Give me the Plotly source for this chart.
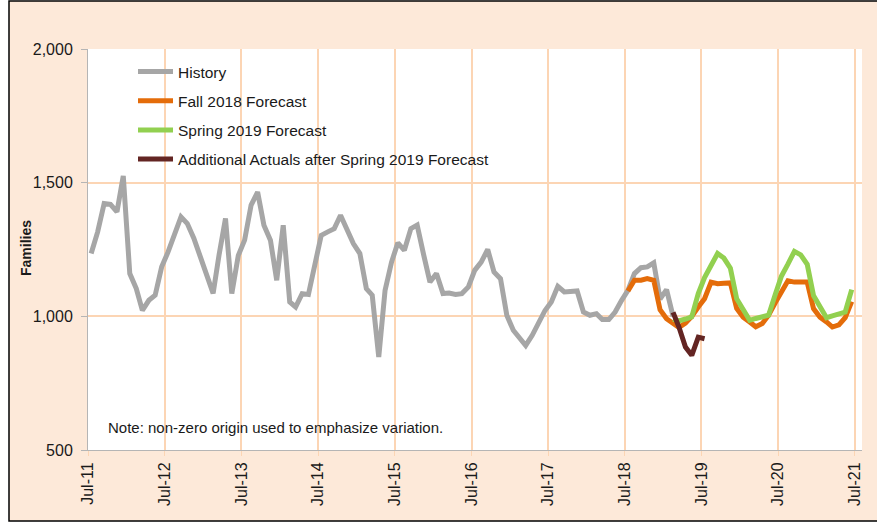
import plotly.graph_objects as go
import pandas as pd

# ---- data (monthly) ----
history_start = "2011-07-01"
history = [1235, 1316, 1422, 1419, 1391, 1525, 1160, 1104, 1022, 1060, 1079, 1185,
           1240, 1300, 1372, 1347, 1292, 1225, 1157, 1086, 1228, 1366, 1085, 1228,
           1285, 1416, 1465, 1341, 1285, 1135, 1341, 1054, 1035, 1085, 1082, 1200,
           1303, 1316, 1328, 1378, 1322, 1272, 1235, 1104, 1079, 848, 1097, 1203,
           1275, 1247, 1328, 1341, 1230, 1128, 1160, 1085, 1087, 1082, 1085, 1110,
           1172, 1203, 1250, 1166, 1141, 1004, 948, 920, 891, 929, 973, 1022,
           1054, 1112, 1091, 1093, 1095, 1016, 1004, 1010, 988, 988, 1016, 1060,
           1097, 1160, 1182, 1185, 1200, 1065, 1100, 1000]

fall_start = "2018-07-01"
fall2018 = [1095, 1135, 1135, 1141, 1135, 1025, 991, 976, 958, 975, 1000, 1035,
            1066, 1128, 1122, 1124, 1125, 1030, 997, 979, 961, 973, 1004, 1050,
            1090, 1133, 1128, 1128, 1128, 1029, 997, 979, 960, 968, 995, 1055]

spring_start = "2019-02-01"
spring2019 = [990, 983, 990, 998, 1085, 1145, 1190, 1235, 1218, 1180, 1066,
              1025, 985, 992, 998, 1004, 1080, 1150, 1195, 1243, 1230, 1195, 1078,
              1032, 995, 1002, 1010, 1016, 1100]

actual_start = "2019-02-01"
additional = [1015, 960, 885, 854, 922, 916]

tick_dates = ["2011-07-01", "2012-07-01", "2013-07-01", "2014-07-01", "2015-07-01",
              "2016-07-01", "2017-07-01", "2018-07-01", "2019-07-01", "2020-07-01",
              "2021-07-01"]
tick_labels = ["Jul-11", "Jul-12", "Jul-13", "Jul-14", "Jul-15", "Jul-16",
               "Jul-17", "Jul-18", "Jul-19", "Jul-20", "Jul-21"]


def months(start, n):
    # points sit in the middle of each month (Excel "between tick marks")
    return pd.date_range(start, periods=n, freq="MS") + pd.Timedelta(days=15)


FONT = "Liberation Sans, Arial, sans-serif"
series = [
    ("History", history_start, history, "#A6A6A6"),
    ("Fall 2018 Forecast", fall_start, fall2018, "#E46C0A"),
    ("Spring 2019 Forecast", spring_start, spring2019, "#92D050"),
    ("Additional Actuals after Spring 2019 Forecast", actual_start, additional, "#632523"),
]

fig = go.Figure()
for i, (name, start, vals, color) in enumerate(series):
    fig.add_trace(go.Scatter(
        x=months(start, len(vals)), y=vals, mode="lines", name=name,
        legendgroup=f"g{i}",
        line=dict(color=color, width=5, shape="linear"),
    ))

W, H = 877, 523
L, R, T, B = 88, 15, 49, 73
pw, ph = W - L - R, H - T - B


def px(xp):
    return (xp - L) / pw


def py(yp):
    return (H - B - yp) / ph


fig.update_layout(
    width=W, height=H,
    margin=dict(l=L, r=R, t=T, b=B, autoexpand=False),
    paper_bgcolor="white", plot_bgcolor="white",
    font=dict(family=FONT, size=15, color="#1a1a1a"),
    showlegend=True,
    legend=dict(x=px(133), y=py(55), xanchor="left", yanchor="top",
                bgcolor="rgba(0,0,0,0)", traceorder="grouped", tracegroupgap=6,
                font=dict(size=15.5), itemwidth=35),
    shapes=[
        dict(type="rect", xref="paper", yref="paper", layer="below",
             x0=px(9), x1=px(890), y0=py(521), y1=py(1),
             fillcolor="#FDE9D9", line=dict(color="black", width=1.5)),
        dict(type="rect", xref="paper", yref="paper", layer="below",
             x0=0, x1=1, y0=0, y1=1, fillcolor="white", line=dict(width=0)),
    ],
    annotations=[
        dict(text="Note: non-zero origin used to emphasize variation.",
             xref="paper", yref="paper", x=px(106), y=py(427),
             xanchor="left", yanchor="middle", showarrow=False,
             font=dict(size=15, color="#1a1a1a")),
        dict(text="<b>Families</b>", xref="paper", yref="paper",
             x=px(26), y=py(248), textangle=-90, xanchor="center", yanchor="middle",
             showarrow=False, font=dict(size=14, color="#1a1a1a")),
    ],
)

fig.update_xaxes(
    type="date", range=["2011-07-01", "2021-08-04"],
    tickvals=tick_dates, ticktext=tick_labels, tickangle=-90,
    showgrid=True, gridcolor="#FCD5B4", gridwidth=1.5,
    showline=True, linecolor="#B5B5B5", linewidth=1,
    ticks="outside", ticklen=5, tickcolor="#FCD5B4",
    tickfont=dict(size=16), zeroline=False,
)
fig.update_yaxes(
    range=[500, 2000], tickvals=[500, 1000, 1500, 2000], tickformat=",",
    showgrid=True, gridcolor="#FCD5B4", gridwidth=1.5,
    showline=True, linecolor="#B5B5B5", linewidth=1,
    ticks="outside", ticklen=6, tickcolor="#B5B5B5",
    ticklabelstandoff=5,
    tickfont=dict(size=16), zeroline=False,
)

fig.write_html("out.html", config={"displayModeBar": False},
               post_script="document.body.style.margin='0';")
